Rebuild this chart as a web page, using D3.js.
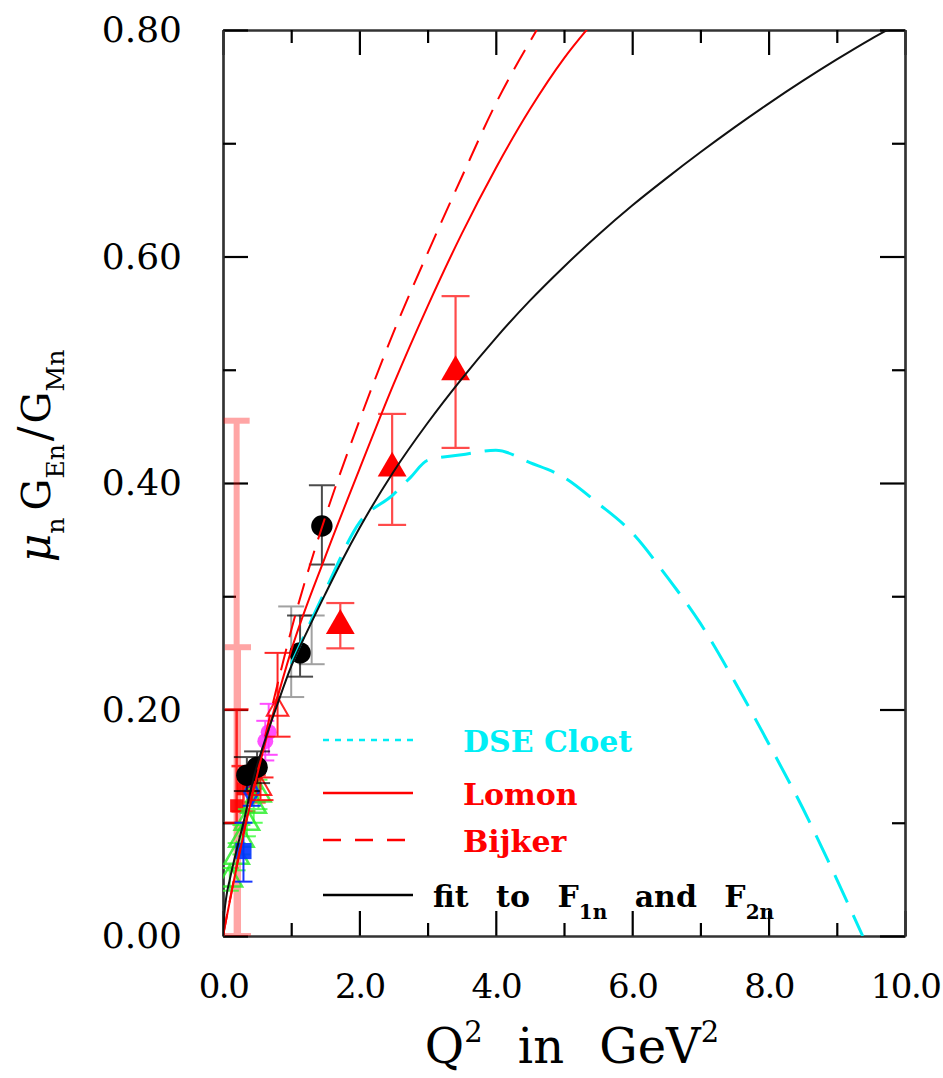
<!DOCTYPE html>
<html>
<head>
<meta charset="utf-8">
<script src="https://cdn.jsdelivr.net/npm/d3@7/dist/d3.min.js"></script>
<style>
  body { margin: 0; background: #fff; }
  text { font-family: "DejaVu Serif", "Liberation Serif", serif; }
</style>
</head>
<body>
<svg width="943" height="1078"></svg>
<script>
// ---- curves (Q^2, mu_n GEn/GMn) ----
const fitQ2  = [0, 0.02, 0.05, 0.1, 0.2, 0.3, 0.45, 0.6, 0.8, 1.0, 1.25, 1.5, 1.75, 2.0, 2.5, 3.0, 3.5, 4.0, 4.5, 5.0, 5.5, 6.0, 6.5, 7.0, 7.5, 8.0, 8.5, 9.0, 9.5, 9.8];
const fitVal = [0, 0.02, 0.035, 0.05, 0.076, 0.10, 0.14, 0.17, 0.205, 0.238, 0.271, 0.302, 0.332, 0.36, 0.41, 0.453, 0.492, 0.528, 0.561, 0.591, 0.619, 0.645, 0.669, 0.692, 0.714, 0.735, 0.755, 0.774, 0.792, 0.802];

const lomonQ2  = [0, 0.25, 0.5, 0.75, 1.0, 1.5, 2.0, 2.5, 3.0, 3.5, 4.0, 4.5, 5.0, 5.4];
const lomonVal = [0, 0.075, 0.142, 0.2, 0.252, 0.335, 0.412, 0.487, 0.556, 0.620, 0.678, 0.730, 0.775, 0.805];

const bijkerQ2  = [0, 0.25, 0.5, 0.75, 1.0, 1.5, 2.0, 2.5, 3.0, 3.5, 4.0, 4.6];
const bijkerVal = [0, 0.077, 0.145, 0.21, 0.27, 0.37, 0.455, 0.533, 0.603, 0.67, 0.735, 0.80];

const cloetQ2  = [1.0, 1.5, 2.0, 2.5, 2.75, 3.0, 3.5, 4.0, 4.5, 5.0, 5.5, 6.0, 6.5, 7.0, 7.5, 8.0, 8.5, 9.0, 9.38];
const cloetVal = [0.24, 0.305, 0.365, 0.39, 0.405, 0.42, 0.425, 0.429, 0.418, 0.405, 0.382, 0.356, 0.318, 0.276, 0.225, 0.170, 0.113, 0.05, 0.0];

// ---- data points ----
const triQ2  = [1.72, 2.48, 3.41];
const triVal = [0.274, 0.413, 0.498];
const triLo  = [0.254, 0.363, 0.431];
const triHi  = [0.294, 0.461, 0.565];

const dotQ2  = [0.35, 0.5, 1.13, 1.45];
const dotVal = [0.142, 0.149, 0.250, 0.362];
const dotLo  = [0.128, 0.135, 0.229, 0.328];
const dotHi  = [0.158, 0.163, 0.283, 0.398];

const grayQ2 = [1.0, 1.3];
const grayVal = [0.25, 0.26];
const grayLo = [0.211, 0.24];
const grayHi = [0.291, 0.283];

const magQ2  = [0.62, 0.67];
const magVal = [0.172, 0.18];
const magLo  = [0.155, 0.16];
const magHi  = [0.19, 0.205];

const redOpenQ2  = [0.8, 0.55];
const redOpenVal = [0.2, 0.13];
const redOpenLo  = [0.176, 0.12];
const redOpenHi  = [0.25, 0.14];

const redBigQ2  = [0.2, 0.22];
const redBigVal = [0.13, 0.12];
const redBigLo  = [0.0, 0.0];
const redBigHi  = [0.455, 0.255];

const redSqQ2  = [0.2, 0.3, 0.45];
const redSqVal = [0.115, 0.13, 0.13];
const redSqLo  = [0.1, 0.11, 0.118];
const redSqHi  = [0.2, 0.15, 0.142];

const blueQ2  = [0.3, 0.42];
const blueVal = [0.075, 0.127];
const blueLo  = [0.048, 0.115];
const blueHi  = [0.1, 0.14];

const greenQ2  = [0.1, 0.2, 0.27, 0.35, 0.45, 0.52];
const greenVal = [0.05, 0.07, 0.085, 0.1, 0.115, 0.125];
const greenLo  = [0.04, 0.058, 0.072, 0.088, 0.1, 0.112];
const greenHi  = [0.06, 0.082, 0.098, 0.112, 0.13, 0.138];

const xTicksMajor = [0, 2, 4, 6, 8, 10];
const xTicksMinor = [1, 3, 5, 7, 9];
const yTicksMajor = [0, 0.2, 0.4, 0.6, 0.8];
const yTicksMinor = [0.1, 0.3, 0.5, 0.7];

const svg = d3.select('svg');

const pLeft = 223, pRight = 905, pTop = 30, pBottom = 936;
const x = d3.scaleLinear().domain([0, 10]).range([pLeft, pRight]);
const y = d3.scaleLinear().domain([0, 0.8]).range([pBottom, pTop]);

const RED = '#ff0000', CYAN = '#00eef5';

// ---- axes / frame ----
function styleAxis(g) {
  g.selectAll('.domain').attr('stroke', '#333').attr('stroke-width', 2.2);
  g.selectAll('.tick line').attr('stroke', '#000').attr('stroke-width', 2.2);
  g.selectAll('.tick text').attr('font-size', 36).attr('fill', '#000')
    .style('font-family', '"DejaVu Serif", serif');
}

svg.append('g').attr('transform', `translate(0,${pBottom})`)
  .call(d3.axisBottom(x).tickValues(xTicksMajor).tickSize(-25).tickSizeOuter(0)
    .tickPadding(38).tickFormat(d3.format('.1f')))
  .call(styleAxis)
  .call(g => g.selectAll('.tick text').attr('font-size', 34).attr('letter-spacing', -1.5));
svg.append('g').attr('transform', `translate(0,${pBottom})`)
  .call(d3.axisBottom(x).tickValues(xTicksMinor).tickSize(-13).tickSizeOuter(0).tickFormat(''))
  .call(styleAxis);
svg.append('g').attr('transform', `translate(0,${pTop})`)
  .call(d3.axisTop(x).tickValues(xTicksMajor).tickSize(-25).tickSizeOuter(0).tickFormat(''))
  .call(styleAxis);
svg.append('g').attr('transform', `translate(0,${pTop})`)
  .call(d3.axisTop(x).tickValues(xTicksMinor).tickSize(-13).tickSizeOuter(0).tickFormat(''))
  .call(styleAxis);

svg.append('g').attr('transform', `translate(${pLeft},0)`)
  .call(d3.axisLeft(y).tickValues(yTicksMajor).tickSize(-25).tickSizeOuter(0)
    .tickPadding(41).tickFormat(d3.format('.2f')))
  .call(styleAxis);
svg.append('g').attr('transform', `translate(${pLeft},0)`)
  .call(d3.axisLeft(y).tickValues(yTicksMinor).tickSize(-13).tickSizeOuter(0).tickFormat(''))
  .call(styleAxis);
svg.append('g').attr('transform', `translate(${pRight},0)`)
  .call(d3.axisRight(y).tickValues(yTicksMajor).tickSize(-25).tickSizeOuter(0).tickFormat(''))
  .call(styleAxis);
svg.append('g').attr('transform', `translate(${pRight},0)`)
  .call(d3.axisRight(y).tickValues(yTicksMinor).tickSize(-13).tickSizeOuter(0).tickFormat(''))
  .call(styleAxis);

// ---- clip for curves ----
svg.append('clipPath').attr('id', 'plotclip')
  .append('rect').attr('x', pLeft).attr('y', pTop).attr('width', pRight - pLeft).attr('height', pBottom - pTop);

const plot = svg.append('g').attr('clip-path', 'url(#plotclip)');

const line = d3.line().x(d => x(d[0])).y(d => y(d[1])).curve(d3.curveMonotoneX);
const zip = (a, b) => a.map((v, i) => [v, b[i]]);

// ---- error bars + markers ----
function errBars(q, v, lo, hi, color, opts) {
  const o = Object.assign({ cap: 24, width: 2, opacity: 1 }, opts);
  const g = plot.append('g').attr('stroke', color).attr('stroke-width', o.width).attr('opacity', o.opacity);
  q.forEach((qq, i) => {
    g.append('line').attr('x1', x(qq)).attr('x2', x(qq)).attr('y1', y(lo[i])).attr('y2', y(hi[i]));
    g.append('line').attr('x1', x(qq) - o.cap / 2).attr('x2', x(qq) + o.cap / 2).attr('y1', y(lo[i])).attr('y2', y(lo[i]));
    g.append('line').attr('x1', x(qq) - o.cap / 2).attr('x2', x(qq) + o.cap / 2).attr('y1', y(hi[i])).attr('y2', y(hi[i]));
  });
}

function markers(q, v, type, size, fill, stroke, sw, opacity) {
  plot.append('g').selectAll('path').data(q).join('path')
    .attr('d', d3.symbol().type(type).size(size))
    .attr('transform', (d, i) => `translate(${x(d)},${y(v[i])})`)
    .attr('fill', fill).attr('stroke', stroke).attr('stroke-width', sw)
    .attr('opacity', opacity);
}

errBars(redBigQ2, redBigVal, redBigLo, redBigHi, RED, { cap: 26, width: 6, opacity: 0.35 });
errBars(redSqQ2, redSqVal, redSqLo, redSqHi, RED, { cap: 24, width: 2.5, opacity: 0.8 });
markers(redSqQ2, redSqVal, d3.symbolSquare, 170, RED, 'none', 0, 0.9);

errBars(greenQ2, greenVal, greenLo, greenHi, '#33ff33', { cap: 18, width: 2, opacity: 0.8 });
markers(greenQ2, greenVal, d3.symbolTriangle, 260, 'none', '#22ee22', 2.5, 0.8);

errBars(blueQ2, blueVal, blueLo, blueHi, '#0022ff', { cap: 18, width: 2, opacity: 0.9 });
markers([blueQ2[0]], [blueVal[0]], d3.symbolSquare, 260, '#0033ff', 'none', 0, 0.9);
markers([blueQ2[1]], [blueVal[1]], d3.symbolDiamond, 180, 'none', '#0033ff', 2.5, 0.9);

errBars(magQ2, magVal, magLo, magHi, '#ff22ff', { cap: 18, width: 2, opacity: 0.8 });
markers(magQ2, magVal, d3.symbolCircle, 200, '#ff33ff', 'none', 0, 0.85);

errBars(redOpenQ2, redOpenVal, redOpenLo, redOpenHi, RED, { cap: 26, width: 2, opacity: 0.85 });
markers(redOpenQ2, redOpenVal, d3.symbolTriangle, 200, 'none', RED, 2, 0.85);

errBars(grayQ2, grayVal, grayLo, grayHi, '#555', { cap: 26, width: 2, opacity: 0.55 });
errBars(dotQ2, dotVal, dotLo, dotHi, '#000', { cap: 26, width: 2, opacity: 0.7 });
markers(dotQ2, dotVal, d3.symbolCircle, 360, '#000', 'none', 0, 1);

errBars(triQ2, triVal, triLo, triHi, RED, { cap: 28, width: 2.2, opacity: 0.7 });
markers(triQ2, triVal, d3.symbolTriangle, 360, RED, 'none', 0, 1);

// ---- theory curves ----
plot.append('path').datum(zip(cloetQ2, cloetVal)).attr('d', line)
  .attr('fill', 'none').attr('stroke', CYAN).attr('stroke-width', 3).attr('stroke-dasharray', '30 14');
plot.append('path').datum(zip(bijkerQ2, bijkerVal)).attr('d', line)
  .attr('fill', 'none').attr('stroke', RED).attr('stroke-width', 2).attr('stroke-dasharray', '22 12');
plot.append('path').datum(zip(lomonQ2, lomonVal)).attr('d', line)
  .attr('fill', 'none').attr('stroke', RED).attr('stroke-width', 2);
plot.append('path').datum(zip(fitQ2, fitVal)).attr('d', line)
  .attr('fill', 'none').attr('stroke', '#111').attr('stroke-width', 2);

// ---- legend ----
const legend = svg.append('g').attr('font-size', 30).attr('font-weight', 'bold');
const legItems = [
  { y: 740, color: CYAN, dash: '6 6', label: 'DSE Cloet' },
  { y: 793, color: RED, dash: null, label: 'Lomon' },
  { y: 840, color: RED, dash: '18 14', label: 'Bijker' },
  { y: 895, color: '#000', dash: null, label: null }
];
legItems.forEach(it => {
  legend.append('line').attr('x1', 323).attr('x2', 413).attr('y1', it.y).attr('y2', it.y)
    .attr('stroke', it.color).attr('stroke-width', 2.5).attr('stroke-dasharray', it.dash);
  if (it.label) {
    legend.append('text').attr('x', 463).attr('y', it.y + 12).attr('fill', it.color)
      .text(it.label);
  }
});
const fitText = legend.append('text').attr('x', 433).attr('y', 907).attr('fill', '#000')
  .attr('word-spacing', 17);
fitText.append('tspan').text('fit to F');
fitText.append('tspan').attr('font-size', 20).attr('dy', 12).text('1n');
fitText.append('tspan').attr('dy', -12).text(' and F');
fitText.append('tspan').attr('font-size', 20).attr('dy', 12).text('2n');

// ---- axis titles ----
const xt = svg.append('text').attr('x', 572).attr('y', 1063).attr('text-anchor', 'middle')
  .attr('font-size', 48).attr('word-spacing', 20);
xt.append('tspan').text('Q');
xt.append('tspan').attr('font-size', 29).attr('dy', -21).text('2');
xt.append('tspan').attr('dy', 21).text(' in GeV');
xt.append('tspan').attr('font-size', 29).attr('dy', -21).text('2');

const yt = svg.append('text').attr('transform', 'translate(50,456) rotate(-90)')
  .attr('text-anchor', 'middle').attr('font-size', 40);
yt.append('tspan').attr('font-style', 'italic').attr('font-size', 44).text('\u03bc');
yt.append('tspan').attr('font-size', 25).attr('dy', 14).text('n');
yt.append('tspan').attr('dy', -14).attr('dx', 7).text('G');
yt.append('tspan').attr('font-size', 25).attr('dy', 14).text('En');
yt.append('tspan').attr('dy', -14).attr('dx', 3).attr('font-size', 44).text('/');
yt.append('tspan').attr('dx', 3).text('G');
yt.append('tspan').attr('font-size', 25).attr('dy', 14).text('Mn');
</script>
</body>
</html>
